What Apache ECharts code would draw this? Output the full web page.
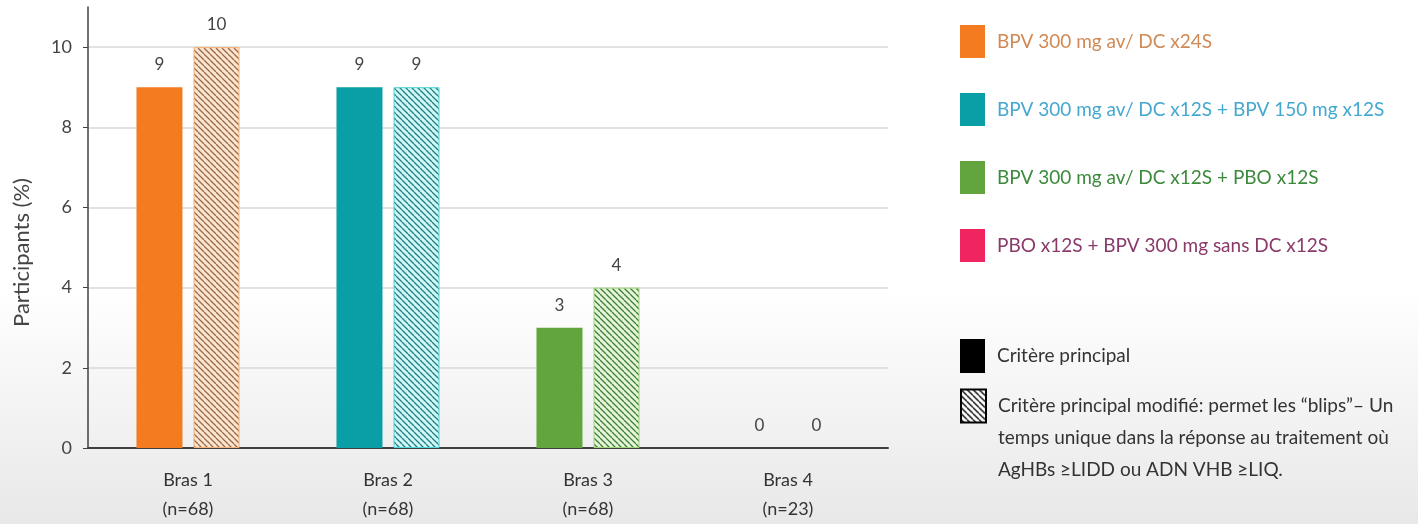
<!DOCTYPE html>
<html lang="fr">
<head>
    <meta charset="UTF-8">
    <title>Participants (%)</title>
</head>
<body style="margin:0;">
<div id="main" style="width: 1418px;height:524px;"></div>
<script src="https://cdn.jsdelivr.net/npm/echarts@6/dist/echarts.min.js"></script>
<script>
    var arms = ['Bras 1', 'Bras 2', 'Bras 3', 'Bras 4'];
    var armN = [68, 68, 68, 23];
    var primary = [9, 9, 3, 0];
    var modified = [10, 9, 4, 0];
    var armNames = [
        'BPV 300 mg av/ DC x24S',
        'BPV 300 mg av/ DC x12S + BPV 150 mg x12S',
        'BPV 300 mg av/ DC x12S + PBO x12S',
        'PBO x12S + BPV 300 mg sans DC x12S'
    ];
    var critPrimary = 'Critère principal';
    var critModified = 'Critère principal modifié: permet les “blips”– Un\ntemps unique dans la réponse au traitement où\nAgHBs ≥LIDD ou ADN VHB ≥LIQ.';

    var armColors = ['#f47b20', '#0a9ea6', '#62a53e', '#f0245e'];
    var armTextColors = ['#d08a55', '#45a8d0', '#3d8a3d', '#8a3a6a'];
    var hatchFill = ['#fde6cf', '#d2f7f7', '#e6f4d8', '#fde0e8'];
    var hatchStripe = ['#9a6b4a', '#1f7f86', '#3e7f3a', '#9a2a4a'];
    var hatchBorder = ['#f5b27a', '#4fd6da', '#9fd47a', '#f07a9a'];

    function hatch(bg, fg) {
        var c = document.createElement('canvas');
        c.width = 6;
        c.height = 6;
        var ctx = c.getContext('2d');
        ctx.fillStyle = bg;
        ctx.fillRect(0, 0, 6, 6);
        ctx.strokeStyle = fg;
        ctx.lineWidth = 1.3;
        [-6, 0, 6].forEach(function (k) {
            ctx.beginPath();
            ctx.moveTo(k, 0);
            ctx.lineTo(k + 6, 6);
            ctx.stroke();
        });
        return {image: c, repeat: 'repeat'};
    }

    var myChart = echarts.init(document.getElementById('main'));

    var font = 'Lato';
    var labelOpt = {
        show: true,
        position: 'top',
        distance: 14,
        fontSize: 17,
        fontFamily: font,
        color: '#444'
    };

    var series = [
        {
            name: critPrimary,
            type: 'bar',
            barWidth: 46,
            barGap: '24%',
            itemStyle: {color: '#000'},
            label: labelOpt,
            data: primary.map(function (v, i) {
                return {value: v, itemStyle: {color: armColors[i]}};
            })
        },
        {
            name: critModified,
            type: 'bar',
            barWidth: 46,
            itemStyle: {color: hatch('#ffffff', '#000000'), borderColor: '#000', borderWidth: 1},
            label: labelOpt,
            data: modified.map(function (v, i) {
                return {
                    value: v,
                    itemStyle: {
                        color: hatch(hatchFill[i], hatchStripe[i]),
                        borderColor: hatchBorder[i],
                        borderWidth: v > 0 ? 1 : 0
                    }
                };
            })
        }
    ];
    // series vides : seulement pour la légende des bras
    armNames.forEach(function (n, i) {
        series.push({name: n, type: 'scatter', data: [], itemStyle: {color: armColors[i], opacity: 1}});
    });

    option = {
        backgroundColor: {
            type: 'linear', x: 0, y: 0, x2: 0, y2: 1,
            colorStops: [
                {offset: 0, color: '#ffffff'},
                {offset: 0.55, color: '#ffffff'},
                {offset: 1, color: '#e8e8e8'}
            ]
        },
        animation: false,
        legend: [
            {
                orient: 'vertical',
                left: 960,
                top: 25,
                padding: 0,
                itemWidth: 25,
                itemHeight: 33,
                itemGap: 35,
                icon: 'rect',
                selectedMode: false,
                textStyle: {fontSize: 19, fontFamily: font, padding: [0, 0, 0, 7]},
                data: armNames.map(function (n, i) {
                    return {name: n, textStyle: {color: armTextColors[i]}};
                })
            },
            {
                orient: 'vertical',
                left: 960,
                top: 339,
                padding: 0,
                itemWidth: 25,
                itemHeight: 34,
                icon: 'rect',
                selectedMode: false,
                textStyle: {fontSize: 19, fontFamily: font, color: '#333', padding: [0, 0, 0, 7]},
                data: [critPrimary]
            },
            {
                orient: 'vertical',
                left: 960,
                top: 326,
                padding: 0,
                itemWidth: 25,
                itemHeight: 33,
                icon: 'rect',
                selectedMode: false,
                formatter: function (n) {
                    return '\n\n' + n;
                },
                textStyle: {fontSize: 19, fontFamily: font, color: '#333', lineHeight: 32, padding: [0, 0, 0, 7]},
                data: [critModified]
            }
        ],
        grid: {
            left: 88,
            right: 530,
            top: 7,
            bottom: 73
        },
        xAxis: {
            type: 'category',
            data: arms.map(function (a, i) {
                return a + '\n(n=' + armN[i] + ')';
            }),
            axisLine: {lineStyle: {color: '#404040', width: 2}},
            axisTick: {show: false},
            axisLabel: {fontSize: 18, fontFamily: font, color: '#333', lineHeight: 29, margin: 18}
        },
        yAxis: {
            type: 'value',
            min: 0,
            max: 11,
            interval: 2,
            name: 'Participants (%)',
            nameLocation: 'middle',
            nameGap: 55,
            nameTextStyle: {fontSize: 22, fontFamily: font, color: '#444', padding: [0, 50, 0, 0]},
            axisLine: {show: true, lineStyle: {color: '#404040', width: 1.5}},
            axisTick: {show: true, length: 5, lineStyle: {color: '#404040'}},
            axisLabel: {fontSize: 18, fontFamily: font, color: '#444', margin: 16, showMaxLabel: false},
            splitLine: {show: true, showMaxLine: false, lineStyle: {color: '#d9d9d9', width: 1.5}}
        },
        series: series
    };

    myChart.setOption(option);
</script>
</body>
</html>
